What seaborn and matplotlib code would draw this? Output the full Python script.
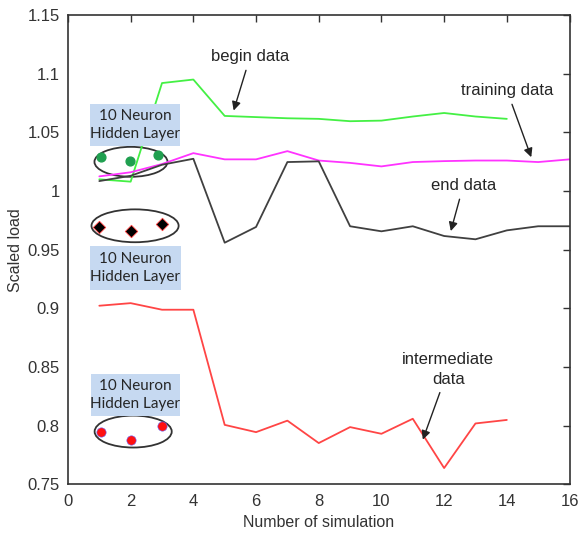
import numpy as np
import pandas as pd
import matplotlib
matplotlib.use('Agg')
import matplotlib.pyplot as plt
from matplotlib.patches import Ellipse, Rectangle
import seaborn as sns

# Data
sim_short = [1, 2, 3, 4, 5, 6, 7, 8, 9, 10, 11, 12, 13, 14]
sim_long = [1, 2, 3, 4, 5, 6, 7, 8, 9, 10, 11, 12, 13, 14, 15, 16]
begin_data = [1.010, 1.008, 1.092, 1.095, 1.064, 1.063, 1.062, 1.0615, 1.0595,
              1.060, 1.0635, 1.0665, 1.0635, 1.0615]
training_data = [1.0125, 1.016, 1.023, 1.0323, 1.027, 1.027, 1.034, 1.026, 1.024,
                 1.021, 1.0247, 1.0255, 1.026, 1.026, 1.0247, 1.027]
end_data = [1.0085, 1.013, 1.0224, 1.0275, 0.956, 0.9694, 1.0247, 1.0253, 0.970,
            0.9657, 0.970, 0.9617, 0.9589, 0.9665, 0.970, 0.970]
intermediate_data = [0.9023, 0.9045, 0.8989, 0.8989, 0.8008, 0.7946, 0.8044, 0.7853,
                     0.7989, 0.7932, 0.806, 0.764, 0.802, 0.805]

# neuron sketches (decoration)
green_x = [1.05, 1.98, 2.88]
green_y = [1.0289, 1.026, 1.0309]
black_x = [1.00, 2.00, 3.01]
black_y = [0.969, 0.9662, 0.9721]
red_x = [1.05, 2.00, 2.99]
red_y = [0.7949, 0.7877, 0.8002]

yticks = [0.75, 0.8, 0.85, 0.9, 0.95, 1.0, 1.05, 1.1, 1.15]
ytick_labels = ['0.75', '0.8', '0.85', '0.9', '0.95', '1', '1.05', '1.1', '1.15']
xticks = [0, 2, 4, 6, 8, 10, 12, 14, 16]

df = pd.concat([
    pd.DataFrame({'sim': sim_short, 'load': begin_data, 'series': 'begin'}),
    pd.DataFrame({'sim': sim_long, 'load': training_data, 'series': 'training'}),
    pd.DataFrame({'sim': sim_long, 'load': end_data, 'series': 'end'}),
    pd.DataFrame({'sim': sim_short, 'load': intermediate_data, 'series': 'intermediate'}),
])
colors = {'begin': '#44f044', 'training': '#ff33ff', 'end': '#404040', 'intermediate': '#ff4545'}

sns.set_style('white')
plt.rcParams['font.family'] = ['Liberation Sans Narrow', 'Liberation Sans', 'DejaVu Sans']

fig = plt.figure(figsize=(5.78, 5.35), dpi=100)
ax = fig.add_axes([0.1176, 0.0944, 0.8677, 0.8776])

sns.lineplot(data=df, x='sim', y='load', hue='series', palette=colors,
             linewidth=1.3, legend=False, ax=ax, sort=False)

ax.set_xlim(0, 16)
ax.set_ylim(0.75, 1.15)
ax.set_xticks(xticks)
ax.set_xticklabels([str(t) for t in xticks])
ax.set_yticks(yticks)
ax.set_yticklabels(ytick_labels)
ax.tick_params(direction='in', top=True, right=True, length=5, width=1,
               labelsize=12, labelcolor='#333333', color='#333333')
ax.tick_params(axis='x', pad=7)
ax.tick_params(axis='y', pad=6)
for s in ax.spines.values():
    s.set_color('#333333')
    s.set_linewidth(1.2)
ax.set_xlabel('Number of simulation', fontsize=11.5, color='#333333', labelpad=4)
ax.set_ylabel('Scaled load', fontsize=11.5, color='#333333')
ax.yaxis.set_label_coords(-0.09, 0.5)

# Annotations
arrow = dict(arrowstyle='-|>', color='#222222', lw=1.0, mutation_scale=13)
txt = dict(fontsize=12, family=['Liberation Sans', 'DejaVu Sans'], ha='center', va='center')
ax.annotate('begin data', xy=(5.26, 1.0663), xytext=(5.81, 1.1143), arrowprops=arrow, **txt)
ax.annotate('training data', xy=(14.81, 1.0266), xytext=(14.01, 1.0853), arrowprops=arrow, **txt)
ax.annotate('end data', xy=(12.19, 0.9636), xytext=(12.61, 1.0045), arrowprops=arrow, **txt)
ax.annotate('intermediate\ndata', xy=(11.29, 0.786), xytext=(12.13, 0.8479), arrowprops=arrow,
            linespacing=1.35, **txt)

# "10 Neuron Hidden Layer" boxes (x0, x1, y0, y1)
boxes = [(0.705, 3.577, 1.038, 1.0743), (0.705, 3.60, 0.916, 0.9528),
         (0.727, 3.577, 0.8081, 0.8445)]
for x0, x1, y0, y1 in boxes:
    ax.add_patch(Rectangle((x0, y0), x1 - x0, y1 - y0, fc='#c6d9f1', ec='none', zorder=4))
    ax.text((x0 + x1) / 2, (y0 + y1) / 2, '10 Neuron\nHidden Layer', fontsize=11,
            family=['Lato', 'DejaVu Sans'], color='#262626', ha='center', va='center',
            linespacing=1.3, zorder=5)

for (cx, cy, w, h) in [(2.01, 1.0249, 2.33, 0.0255), (2.14, 0.9704, 2.78, 0.028),
                       (2.08, 0.7951, 2.46, 0.0272)]:
    ax.add_patch(Ellipse((cx, cy), w, h, fill=False, ec='#333333', lw=1.3))

ax.scatter(green_x, green_y, s=40, color='#20a050', zorder=5)
ax.scatter(black_x, black_y, s=40, marker='D', color='black', edgecolor='#ff4040', lw=0.6, zorder=5)
ax.scatter(red_x, red_y, s=45, color='#ff1010', edgecolor='#6060ff', lw=0.4, zorder=5)

fig.savefig('out.png', dpi=100)
